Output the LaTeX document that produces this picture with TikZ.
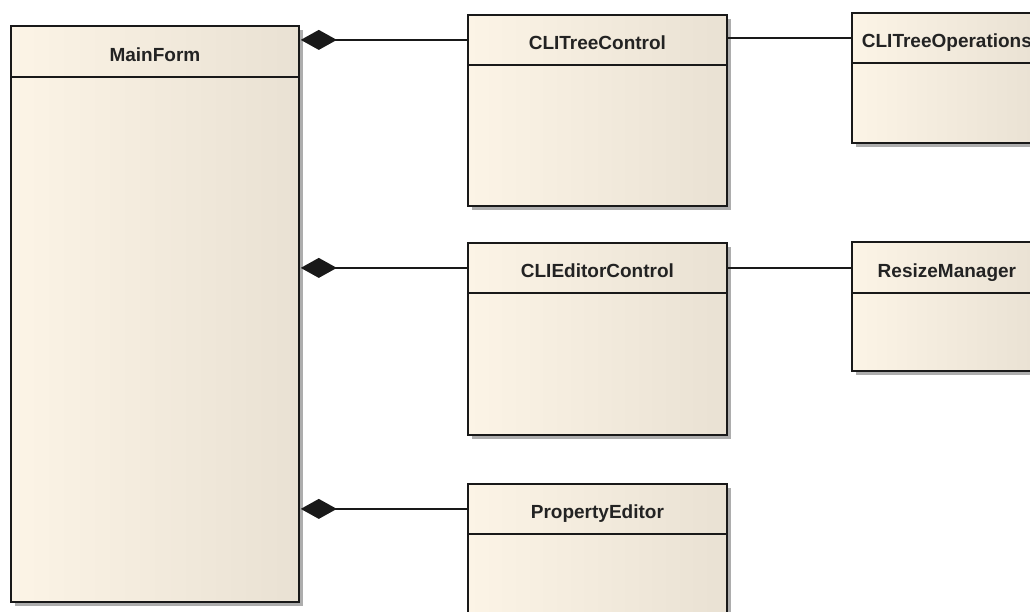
\documentclass[tikz,border=0pt]{standalone}
\usepackage{fontspec}
\newfontfamily\umlfont{Liberation Sans}
\usetikzlibrary{positioning}
\usetikzlibrary{shadows}
\usetikzlibrary{arrows.meta}

\definecolor{classlight}{RGB}{252,244,230}
\definecolor{classdark}{RGB}{233,225,211}
\definecolor{classline}{RGB}{25,25,25}
\definecolor{classtext}{RGB}{35,35,35}

\tikzset{
  classbody/.style={draw=classline, line width=1.8pt, left color=classlight, right color=classdark,
    anchor=north west, inner sep=0pt,
    drop shadow={shadow xshift=4pt, shadow yshift=-4pt, fill=black!32, opacity=1}},
  classhead/.style={draw=classline, line width=1.8pt, left color=classlight, right color=classdark,
    anchor=north west, inner sep=0pt, text height=20pt, text depth=0pt,
    font=\umlfont\bfseries\fontsize{19}{21}\selectfont, text=classtext},
  compose/.style={{Diamond[length=36pt,width=20pt]}-, line width=1.6pt, draw=classline, shorten <=1pt},
  assoc/.style={line width=1.6pt, draw=classline}
}

\begin{document}
\begin{tikzpicture}[x=1pt,y=-1pt]
\useasboundingbox (0,0) rectangle (1030,612);
\fill[white] (0,0) rectangle (1030,612);
\clip (0,0) rectangle (1030,612);

% class bodies
\node[classbody, minimum width=288pt, minimum height=576pt] (main)   at (10,25)  {};
\node[classbody, minimum width=259pt, minimum height=191pt] (tree)   at (467,14) {};
\node[classbody, minimum width=190pt, minimum height=130pt] (ops)    at (851,12) {};
\node[classbody, minimum width=259pt, minimum height=192pt] (editor) at (467,242) {};
\node[classbody, minimum width=190pt, minimum height=129pt] (resize) at (851,241) {};
\node[classbody, minimum width=259pt, minimum height=160pt] (prop)   at (467,483) {};

% class headers
\node[classhead, minimum width=288pt, minimum height=51pt] (mainH)   at (main.north west)   {MainForm};
\node[classhead, minimum width=259pt, minimum height=50pt] (treeH)   at (tree.north west)   {CLITreeControl};
\node[classhead, minimum width=190pt, minimum height=50pt] (opsH)    at (ops.north west)    {CLITreeOperations};
\node[classhead, minimum width=259pt, minimum height=50pt] (editorH) at (editor.north west) {CLIEditorControl};
\node[classhead, minimum width=190pt, minimum height=51pt] (resizeH) at (resize.north west) {ResizeManager};
\node[classhead, minimum width=259pt, minimum height=50pt] (propH)   at (prop.north west)   {PropertyEditor};

% compositions
\draw[compose] (main.east |- treeH.west)   -- (treeH.west);
\draw[compose] (main.east |- editorH.west) -- (editorH.west);
\draw[compose] (main.east |- propH.west)   -- (propH.west);

% associations
\draw[assoc] (tree.east |- opsH.west)      -- (opsH.west);
\draw[assoc] (editor.east |- editorH.west) -- (resize.west |- editorH.west);

\end{tikzpicture}
\end{document}
